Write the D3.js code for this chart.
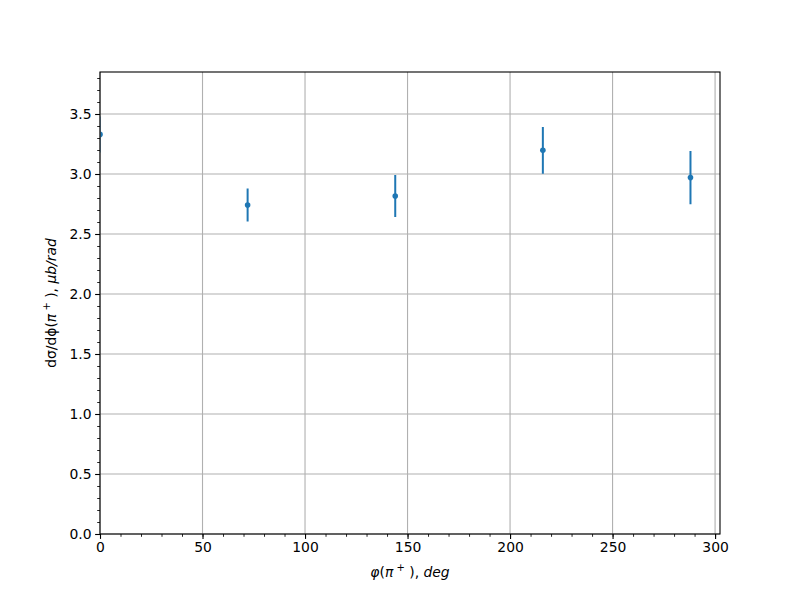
<!DOCTYPE html>
<html><head><meta charset="utf-8">
<script src="https://cdn.jsdelivr.net/npm/d3@7"></script>
<style>body{margin:0;background:#fff}svg{display:block}text{font-family:"DejaVu Sans",sans-serif}</style>
</head><body>
<svg id="c" width="800" height="600"></svg>
<script>
const phiDeg = [0, 72, 144, 216, 288];
const xsec = [3.33, 2.742, 2.817, 3.197, 2.97];
const xsecErr = [0.15, 0.137, 0.175, 0.195, 0.222];
const xTicks = [0, 50, 100, 150, 200, 250, 300];
const yTicks = [0, 0.5, 1.0, 1.5, 2.0, 2.5, 3.0, 3.5];

const svg = d3.select("#c");
const L = 100, R = 720, T = 72, B = 534;
const x = d3.scaleLinear().domain([0, 302.4]).range([L, R]);
const y = d3.scaleLinear().domain([0, 3.85]).range([B, T]);
const fs = "13.9px";

// grid
svg.append("g").selectAll("line").data(xTicks).join("line")
  .attr("x1", d => x(d)).attr("x2", d => x(d)).attr("y1", T).attr("y2", B)
  .attr("stroke", "#b0b0b0").attr("stroke-width", 1.1);
svg.append("g").selectAll("line").data(yTicks).join("line")
  .attr("y1", d => y(d)).attr("y2", d => y(d)).attr("x1", L).attr("x2", R)
  .attr("stroke", "#b0b0b0").attr("stroke-width", 1.1);

// data
svg.append("clipPath").attr("id", "clip").append("rect")
  .attr("x", L + 0.6).attr("y", T).attr("width", R - L).attr("height", B - T);
const g = svg.append("g").attr("clip-path", "url(#clip)");
const pts = phiDeg.map((p, i) => ({p, v: xsec[i], e: xsecErr[i]}));
g.selectAll("line.err").data(pts).join("line").attr("class", "err")
  .attr("x1", d => x(d.p)).attr("x2", d => x(d.p))
  .attr("y1", d => y(d.v - d.e)).attr("y2", d => y(d.v + d.e))
  .attr("stroke", "#1f77b4").attr("stroke-width", 2);
g.selectAll("circle").data(pts).join("circle")
  .attr("cx", d => x(d.p)).attr("cy", d => y(d.v)).attr("r", 2.8)
  .attr("fill", "#1f77b4");

// axes
const xAxis = d3.axisBottom(x).tickValues(xTicks).tickFormat(d3.format("d")).tickSize(4.9).tickPadding(3.5);
const yAxis = d3.axisLeft(y).tickValues(yTicks).tickFormat(d3.format(".1f")).tickSize(4.9).tickPadding(3.5);
const xMinor = d3.axisBottom(x).tickValues(d3.range(0, 303, 10)).tickFormat("").tickSize(2.8);
const yMinor = d3.axisLeft(y).tickValues(d3.range(0, 3.85, 0.1)).tickFormat("").tickSize(2.8);
function style(w) {
  return sel => {
    sel.select(".domain").remove();
    sel.selectAll("line").attr("stroke", "#000").attr("stroke-width", w);
    sel.selectAll("text").attr("font-size", fs).attr("fill", "#000").attr("font-family", "DejaVu Sans");
  };
}
svg.append("g").attr("transform", `translate(0,${B})`).call(xMinor).call(style(0.85));
svg.append("g").attr("transform", `translate(${L},0)`).call(yMinor).call(style(0.85));
svg.append("g").attr("transform", `translate(0,${B})`).call(xAxis).call(style(1.1));
svg.append("g").attr("transform", `translate(${L},0)`).call(yAxis).call(style(1.1));

// spines
svg.append("rect").attr("x", L).attr("y", T).attr("width", R - L).attr("height", B - T)
  .attr("fill", "none").attr("stroke", "#000").attr("stroke-width", 1.1);

// labels
const xl = svg.append("text").attr("x", 410).attr("y", 577).attr("text-anchor", "middle").attr("font-size", fs);
xl.append("tspan").attr("font-style", "italic").text("φ");
xl.append("tspan").text("(");
xl.append("tspan").attr("font-style", "italic").text("π");
xl.append("tspan").attr("font-size", "10px").attr("dy", -6).text(" +");
xl.append("tspan").attr("dy", 6).text(" ), ");
xl.append("tspan").attr("font-style", "italic").text("deg");

const yl = svg.append("text").attr("transform", "translate(56,303) rotate(-90)").attr("text-anchor", "middle").attr("font-size", fs);
yl.append("tspan").text("dσ/dϕ(");
yl.append("tspan").attr("font-style", "italic").text("π");
yl.append("tspan").attr("font-size", "10px").attr("dy", -6).text(" +");
yl.append("tspan").attr("dy", 6).text(" ), ");
yl.append("tspan").attr("font-style", "italic").text("μb/rad");
</script>
</body></html>
